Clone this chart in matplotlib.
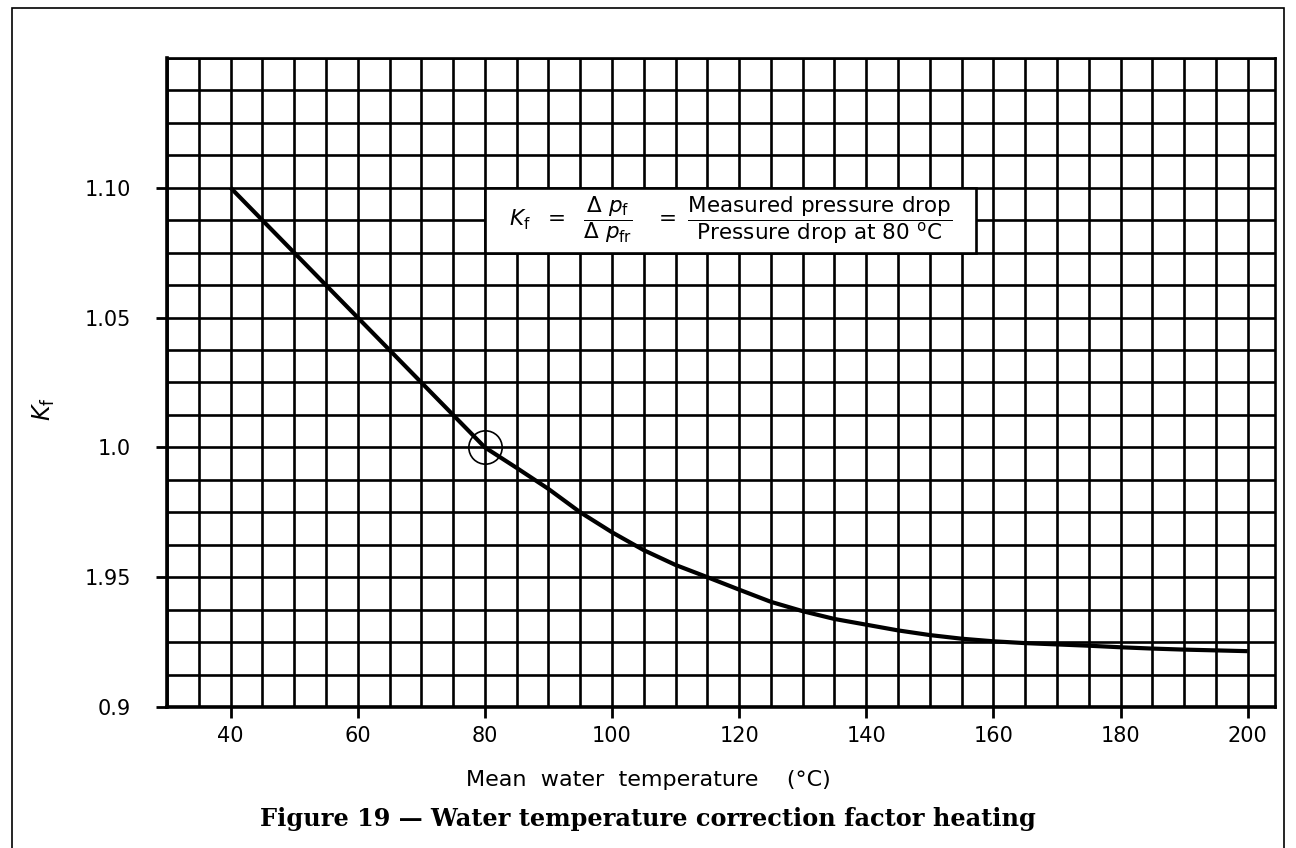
import numpy as np
import matplotlib
matplotlib.use("Agg")
import matplotlib.pyplot as plt
from matplotlib.ticker import MultipleLocator, FixedLocator
from matplotlib.patches import Rectangle

# Mean water temperature (degC) and correction factor Kf
temp = [40, 45, 50, 55, 60, 65, 70, 75, 80, 85, 90, 95, 100, 105, 110, 115,
        120, 125, 130, 135, 140, 145, 150, 155, 160, 165, 170, 175, 180, 185,
        190, 195, 200]
kf = [1.100, 1.0875, 1.075, 1.0625, 1.050, 1.0375, 1.025, 1.0125, 1.000,
      0.9921, 0.9840, 0.9750, 0.9673, 0.9604, 0.9547, 0.9500, 0.9452, 0.9405,
      0.9369, 0.9339, 0.9317, 0.9295, 0.9277, 0.9263, 0.9253, 0.9246, 0.9241,
      0.9236, 0.9230, 0.9225, 0.9221, 0.9218, 0.9215]

# reference point
ref_t = 80
ref_k = 1.0

x_ticks = [40, 60, 80, 100, 120, 140, 160, 180, 200]
y_ticks = [0.9, 0.95, 1.0, 1.05, 1.10]
y_tick_labels = ["0.9", "1.95", "1.0", "1.05", "1.10"]

plt.rcParams['mathtext.fontset'] = 'dejavusans'

fig = plt.figure(figsize=(12.96, 8.48), dpi=100)
ax = fig.add_axes([0.1289, 0.1663, 0.8549, 0.7653])

ax.set_xlim(30, 204.3)
ax.set_ylim(0.9, 1.15)

# graph paper grid
ax.xaxis.set_minor_locator(MultipleLocator(5))
ax.yaxis.set_minor_locator(MultipleLocator(0.0125))
ax.xaxis.set_major_locator(FixedLocator(x_ticks))
ax.yaxis.set_major_locator(FixedLocator(y_ticks))
ax.grid(which='both', color='black', linewidth=1.9)
ax.set_axisbelow(True)

ax.set_yticklabels(y_tick_labels)
ax.tick_params(which='minor', length=0)
ax.tick_params(which='major', direction='out', length=8, width=2,
               labelsize=15)
ax.tick_params(axis='y', pad=18)
ax.tick_params(axis='x', pad=6)

for side in ['left', 'bottom']:
    ax.spines[side].set_linewidth(2.6)
for side in ['top', 'right']:
    ax.spines[side].set_linewidth(1.9)

ax.plot(temp, kf, color='black', linewidth=3.0, solid_capstyle='butt',
        zorder=3)
ax.plot([ref_t], [ref_k], marker='o', markersize=24, markerfacecolor='none',
        markeredgecolor='black', markeredgewidth=1.2, zorder=4)

# definition box
ax.add_patch(Rectangle((80, 1.075), 77.3, 0.025, facecolor='white',
                       edgecolor='black', linewidth=1.9, zorder=2.5))
ax.text(118.6, 1.0875,
        r'$K_\mathrm{f}\ \ =\ \ \dfrac{\Delta\ p_\mathrm{f}}{\Delta\ p_\mathrm{fr}}'
        r'\ \ \ =\ \dfrac{\mathrm{Measured\ pressure\ drop}}'
        r'{\mathrm{Pressure\ drop\ at\ 80\ ^oC}}$',
        ha='center', va='center', fontsize=15.5, zorder=5)

fig.text(0.034, 0.517, r'$K_\mathrm{f}$', rotation=90, fontsize=17,
         ha='center', va='center')
fig.text(0.5, 0.08, 'Mean  water  temperature    (°C)', fontsize=16,
         ha='center', va='center')
fig.text(0.5, 0.034, 'Figure 19 \u2014 Water temperature correction factor heating',
         fontsize=17.3, fontweight='bold', family='DejaVu Serif',
         ha='center', va='center')

# outer frame
fig.add_artist(Rectangle((0.0093, -0.01), 0.9815, 1.0, transform=fig.transFigure,
                         fill=False, edgecolor='black', linewidth=1.2))

fig.savefig('out.png', dpi=100)
